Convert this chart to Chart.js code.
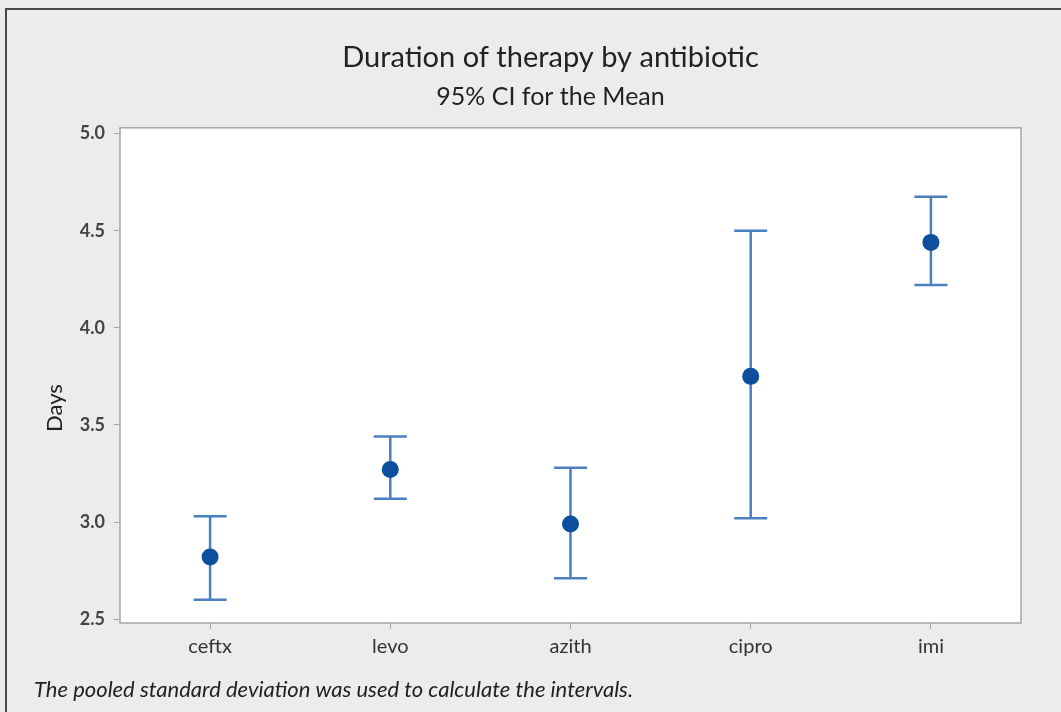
<!DOCTYPE html>
<html>
<head>
<meta charset="utf-8">
<script src="https://cdn.jsdelivr.net/npm/chart.js@4.4.1/dist/chart.umd.min.js"></script>
<style>
  html, body { margin: 0; padding: 0; background: #ececec; }
  #wrap {
    position: absolute; left: 5px; top: 8px; width: 1056px; height: 704px;
    border-left: 2px solid #4a4a4a; border-top: 2px solid #4a4a4a;
    box-sizing: border-box;
  }
  canvas { position: absolute; left: 0; top: 0; }
</style>
</head>
<body>
<canvas id="ciChart" width="1061" height="712"></canvas>
<div id="wrap"></div>
<script>
const antibiotics = ["ceftx", "levo", "azith", "cipro", "imi"];
const means = [2.82, 3.27, 2.99, 3.75, 4.44];
const lowerCI = [2.60, 3.12, 2.71, 3.02, 4.22];
const upperCI = [3.03, 3.44, 3.28, 4.50, 4.675];
const dayTicks = [2.5, 3.0, 3.5, 4.0, 4.5, 5.0];

const lineBlue = "#4a7fc0";
const dotBlue = "#0d4f9e";
const fontFamily = "Lato, 'Open Sans', sans-serif";

// white plot area, frame, axis label and footnote
const plotBox = {
  id: "plotBox",
  beforeDraw(chart) {
    const { ctx, chartArea: a } = chart;
    ctx.save();
    ctx.fillStyle = "#ffffff";
    ctx.fillRect(a.left, a.top, a.right - a.left, a.bottom - a.top);
    ctx.restore();
  },
  afterDraw(chart) {
    const { ctx, chartArea: a } = chart;
    ctx.save();
    ctx.strokeStyle = "#a6a6a6";
    ctx.lineWidth = 1.5;
    ctx.strokeRect(a.left, a.top, a.right - a.left, a.bottom - a.top);

    ctx.fillStyle = "#222222";
    ctx.textBaseline = "middle";
    ctx.font = "italic 22px " + fontFamily;
    ctx.fillText("The pooled standard deviation was used to calculate the intervals.", 34, 690);

    ctx.translate(55, 408);
    ctx.rotate(-Math.PI / 2);
    ctx.textAlign = "center";
    ctx.font = "22px " + fontFamily;
    ctx.fillText("Days", 0, 0);
    ctx.restore();
  },
};

// interval whiskers drawn through the chart scales
const intervals = {
  id: "intervals",
  beforeDatasetsDraw(chart) {
    const { ctx } = chart;
    const x = chart.scales.x;
    const y = chart.scales.y;
    ctx.save();
    ctx.strokeStyle = lineBlue;
    ctx.lineWidth = 2.5;
    antibiotics.forEach((name, i) => {
      const px = x.getPixelForValue(i);
      const top = y.getPixelForValue(upperCI[i]);
      const bot = y.getPixelForValue(lowerCI[i]);
      ctx.beginPath();
      ctx.moveTo(px, top);
      ctx.lineTo(px, bot);
      ctx.moveTo(px - 16.5, top);
      ctx.lineTo(px + 16.5, top);
      ctx.moveTo(px - 16.5, bot);
      ctx.lineTo(px + 16.5, bot);
      ctx.stroke();
    });
    ctx.restore();
  },
};

new Chart(document.getElementById("ciChart"), {
  type: "line",
  data: {
    labels: antibiotics,
    datasets: [{
      data: means,
      showLine: false,
      pointRadius: 8.5,
      pointBackgroundColor: dotBlue,
      pointBorderColor: dotBlue,
      pointBorderWidth: 0,
    }],
  },
  options: {
    responsive: false,
    animation: false,
    // left padding pushes the titles right; y axis width makes up the rest
    layout: { padding: { left: 80, right: 40, top: 0, bottom: 49 } },
    plugins: {
      legend: { display: false },
      tooltip: { enabled: false },
      title: {
        display: true,
        text: "Duration of therapy by antibiotic",
        color: "#222222",
        font: { family: fontFamily, size: 29, weight: "normal" },
        padding: { top: 40, bottom: 0 },
      },
      subtitle: {
        display: true,
        text: "95% CI for the Mean",
        color: "#222222",
        font: { family: fontFamily, size: 25, weight: "normal" },
        padding: { top: 7, bottom: 16 },
      },
    },
    scales: {
      x: {
        offset: true,
        grid: { display: true, drawOnChartArea: false, tickLength: 6, color: "#a6a6a6", offset: false },
        border: { display: false },
        ticks: { color: "#333333", padding: 6, font: { family: fontFamily, size: 20 } },
        afterFit(axis) { axis.height = 40; },
      },
      y: {
        min: 2.48,
        max: 5.03,
        grid: { display: true, drawOnChartArea: false, tickLength: 6, color: "#a6a6a6" },
        border: { display: false },
        ticks: {
          color: "#444444",
          padding: 9,
          font: { family: fontFamily, size: 18, weight: "bold" },
          callback: (v) => v.toFixed(1),
        },
        afterBuildTicks(axis) { axis.ticks = dayTicks.map((v) => ({ value: v })); },
        afterFit(axis) { axis.width = 40; },
      },
    },
  },
  plugins: [plotBox, intervals],
});
</script>
</body>
</html>
